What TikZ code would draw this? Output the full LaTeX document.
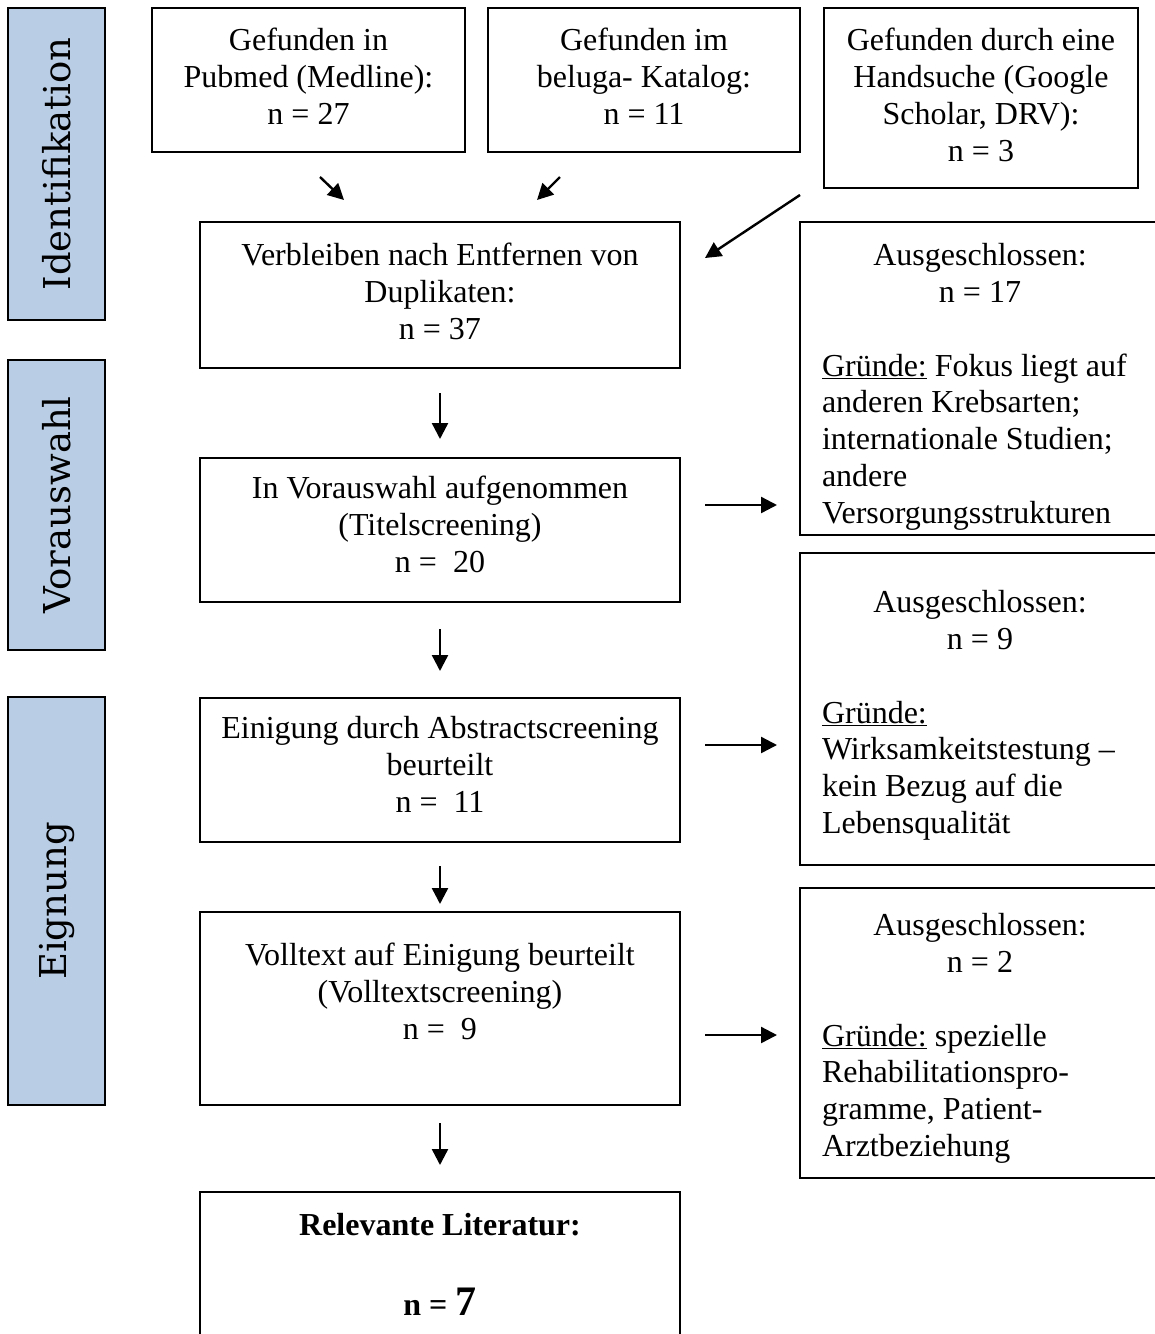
\documentclass[tikz,border=0pt]{standalone}
\usepackage{fontspec}
\setmainfont{Liberation Serif}
\newfontfamily\phasefont{DejaVu Serif}
\usetikzlibrary{arrows.meta}
\usepackage{xcolor}
\definecolor{phaseblue}{RGB}{185,205,229}
\newcommand{\boxtop}[4]{\parbox[c][#2pt][t]{#1pt}{\vspace*{#3pt}\centering\strut #4}}

\begin{document}
\begin{tikzpicture}[x=1pt, y=-1pt,
  box/.style={draw, line width=2pt, inner xsep=10pt, inner ysep=0pt,
              font=\fontsize{32}{36.8}\selectfont},
  excl/.style={box, inner xsep=22pt},
  phase/.style={draw, line width=2pt, fill=phaseblue, rotate=90,
                minimum height=97pt, font=\phasefont\fontsize{37}{44}\selectfont},
  flow/.style={-{Triangle[length=16pt, width=16pt]}, line width=2.4pt},
]
  \useasboundingbox (0,0) rectangle (1155,1334);
  \clip (0,0) rectangle (1155,1334);

  \node[phase, minimum width=312pt] (ident) at (56.5,164) {Identifikation};
  \node[phase, minimum width=290pt] (vorw)  at (56.5,505) {Vorauswahl};
  \node[phase, minimum width=408pt] (eign)  at (56.5,901) {Eignung};

  \node[box] (pubmed) at (308.5,80) {\boxtop{293}{144}{17}{Gefunden in\\Pubmed (Medline):\\n = 27}};
  \node[box] (beluga) at (644,80)   {\boxtop{292}{144}{17}{Gefunden im\\beluga- Katalog:\\n = 11}};
  \node[box] (hand)   at (981,98)   {\boxtop{294}{180}{17}{Gefunden durch eine\\Handsuche (Google\\Scholar, DRV):\\n = 3}};

  \node[box] (remain)  at (440,295)    {\boxtop{460}{146}{18}{Verbleiben nach Entfernen von\\Duplikaten:\\n = 37}};
  \node[box] (title)   at (440,530)    {\boxtop{460}{144}{15}{In Vorauswahl aufgenommen\\(Titelscreening)\\n = \ 20}};
  \node[box] (abstr)   at (440,770)    {\boxtop{460}{144}{15}{Einigung durch Abstractscreening\\beurteilt\\n = \ 11}};
  \node[box] (full)    at (440,1008.5) {\boxtop{460}{193}{28}{Volltext auf Einigung beurteilt\\(Volltextscreening)\\n = \ 9}};
  \node[box] (result)  at (440,1277)   {\boxtop{460}{170}{18}{\bfseries Relevante Literatur:\\[40pt]n = {\fontsize{42}{42}\selectfont 7}}};

  \node[excl] (out1) at (980,378.5) {\boxtop{316}{313}{18}{Ausgeschlossen:\\n = 17\\\mbox{}\par\raggedright
    \underline{Gründe:} Fokus liegt auf\\anderen Krebsarten;\\internationale Studien;\\andere\\Versorgungsstrukturen}};
  \node[excl] (out2) at (980,709)   {\boxtop{316}{312}{34}{Ausgeschlossen:\\n = 9\\\mbox{}\par\raggedright
    \underline{Gründe:}\\Wirksamkeitstestung –\\kein Bezug auf die\\Lebensqualität}};
  \node[excl] (out3) at (980,1033)  {\boxtop{316}{290}{22}{Ausgeschlossen:\\n = 2\\\mbox{}\par\raggedright
    \underline{Gründe:} spezielle\\Rehabilitationspro-\\gramme, Patient-\\Arztbeziehung}};

  \coordinate (inA)  at (320,177);
  \coordinate (inAe) at (344,200);
  \coordinate (inB)  at (560,177);
  \coordinate (inBe) at (537,200);
  \coordinate (inC)  at (800,195);
  \coordinate (inCe) at (705,258);
  \coordinate (exA)  at (705,505);
  \coordinate (exAe) at (777,505);
  \coordinate (exB)  at (705,745);
  \coordinate (exBe) at (777,745);
  \coordinate (exC)  at (705,1035);
  \coordinate (exCe) at (777,1035);

  \draw[flow] (inA) -- (inAe);
  \draw[flow] (inB) -- (inBe);
  \draw[flow] (inC) -- (inCe);

  \draw[flow, shorten <=24pt, shorten >=18pt] (remain) -- (title);
  \draw[flow, shorten <=26pt, shorten >=26pt] (title) -- (abstr);
  \draw[flow, shorten <=23pt, shorten >=7pt]  (abstr) -- (full);
  \draw[flow, shorten <=17pt, shorten >=26pt] (full) -- (result);

  \draw[flow] (exA) -- (exAe);
  \draw[flow] (exB) -- (exBe);
  \draw[flow] (exC) -- (exCe);
\end{tikzpicture}
\end{document}
